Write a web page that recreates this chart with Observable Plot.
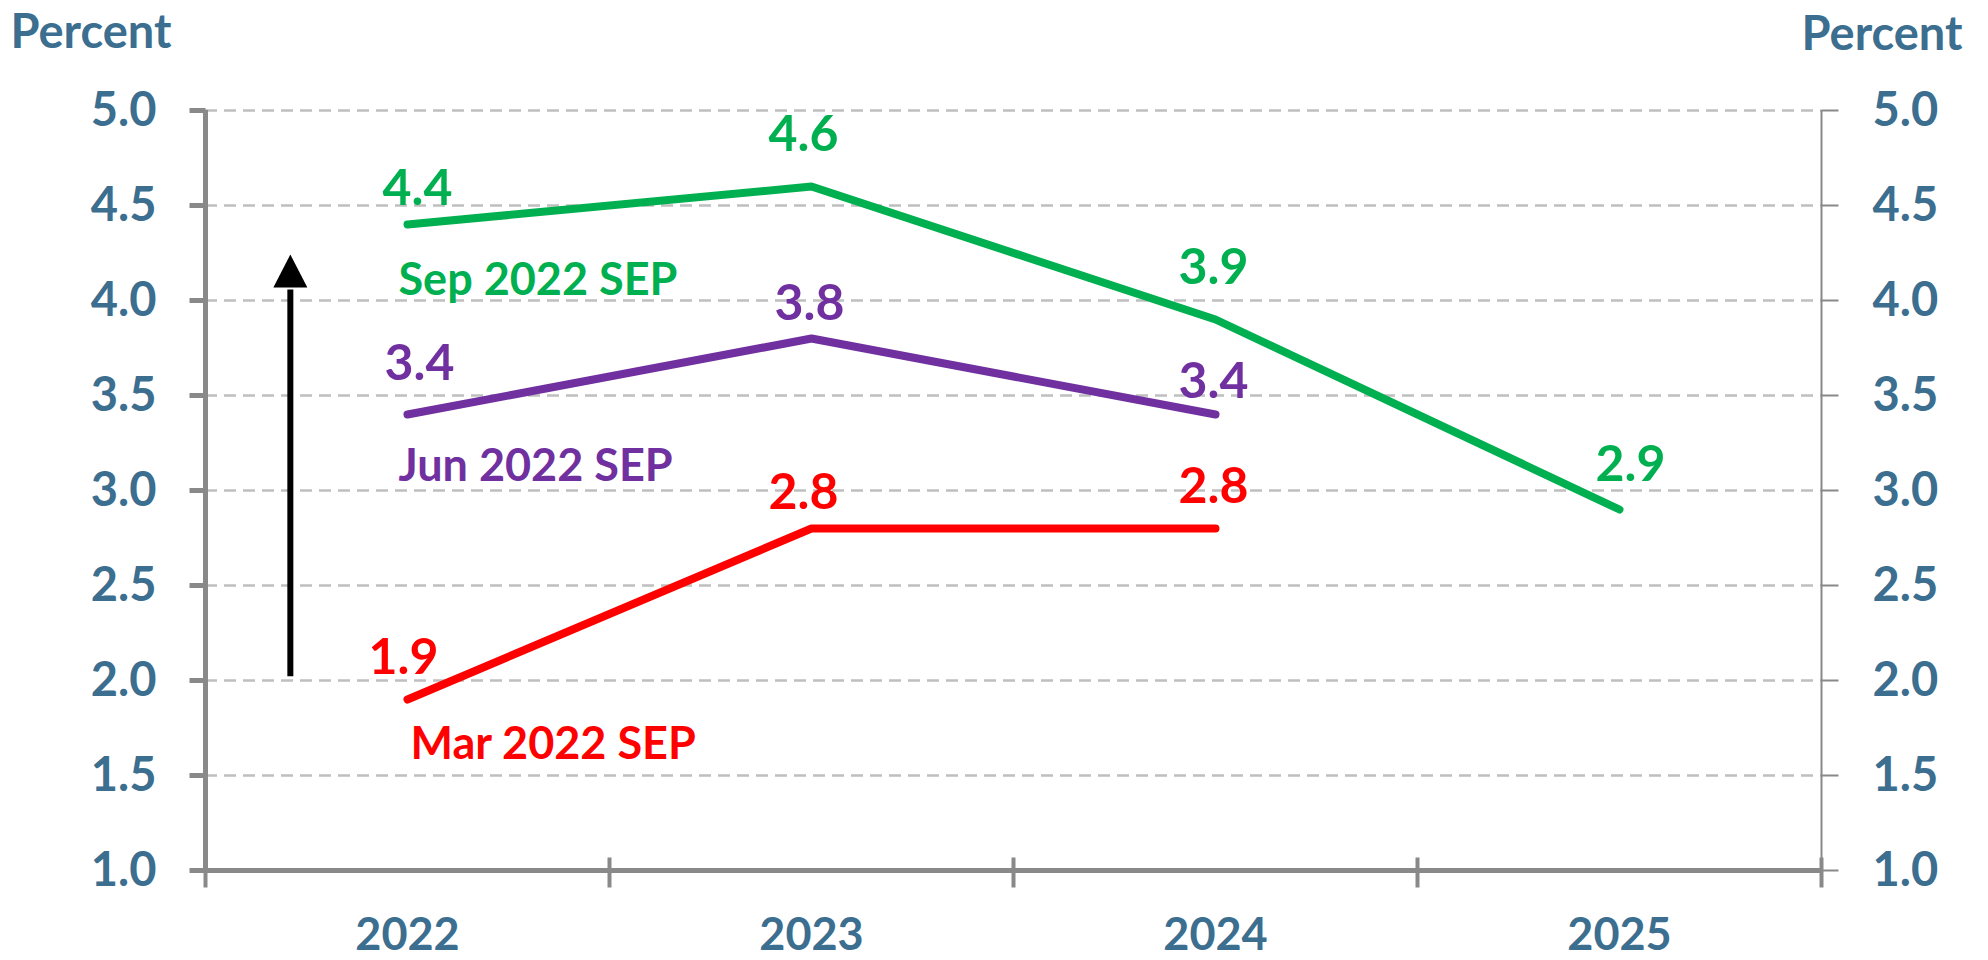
<!DOCTYPE html>
<html><head><meta charset="utf-8">
<script src="https://cdn.jsdelivr.net/npm/d3@7"></script>
<script src="https://cdn.jsdelivr.net/npm/@observablehq/plot@0.6"></script>
<style>body{margin:0;background:#fff;} #chart svg{display:block;}</style>
</head><body><div id="chart"></div>
<script>
// ---- data ----
const years = [2022, 2023, 2024, 2025];
const seriesNames = ["Mar 2022 SEP", "Jun 2022 SEP", "Sep 2022 SEP"];
const marValues = [1.9, 2.8, 2.8];
const junValues = [3.4, 3.8, 3.4];
const sepValues = [4.4, 4.6, 3.9, 2.9];
const yTicks = [1.0, 1.5, 2.0, 2.5, 3.0, 3.5, 4.0, 4.5, 5.0];
const yTitle = "Percent";
const xBounds = [2021.5, 2022.5, 2023.5, 2024.5, 2025.5];
const arrowYear = [2021.71];
const arrowFrom = 2.02;
const arrowTo = 4.155;

// ---- styles / layout ----
const seriesColors = ["#FF0000", "#7030A0", "#00B050"];
const textColor = "#3B6E8F";
const axisColor = "#898989";
const font = "Lato, 'Open Sans', sans-serif";
const valueOffsets = {
  "Mar 2022 SEP": [[-4, -26], [-8, -20], [-2, -26]],
  "Jun 2022 SEP": [[12, -35], [-2, -19], [-2, -17]],
  "Sep 2022 SEP": [[10, -20], [-8, -36], [-2, -36], [11, -29]]
};
const nameOffsets = {
  "Mar 2022 SEP": [3, 59],
  "Jun 2022 SEP": [-9, 66],
  "Sep 2022 SEP": [-9, 70]
};

const valuesBySeries = [marValues, junValues, sepValues];
const rows = seriesNames.flatMap((s, i) =>
  valuesBySeries[i].map((v, j) => ({series: s, year: years[j], value: v, idx: j})));

// custom symbols (tick marks and arrow head)
const triangleUp = {
  draw(c) {
    c.moveTo(0, -16.5);
    c.lineTo(17, 16.5);
    c.lineTo(-17, 16.5);
    c.closePath();
  }
};
const tickLeft = {draw(c) { c.moveTo(-16, 0); c.lineTo(0, 0); }};
const tickRight = {draw(c) { c.moveTo(0, 0); c.lineTo(17, 0); }};
const tickCross = {draw(c) { c.moveTo(0, -13); c.lineTo(0, 17); }};

const valueLabels = rows.map(d => {
  const [dx, dy] = valueOffsets[d.series][d.idx];
  return Plot.text([d], {x: "year", y: "value", text: r => r.value.toFixed(1), fill: "series",
    dx, dy, lineAnchor: "bottom", textAnchor: "middle", fontSize: 50, fontWeight: "bold"});
});
const nameLabels = seriesNames.map(s => {
  const first = rows.find(d => d.series === s && d.idx === 0);
  const [dx, dy] = nameOffsets[s];
  return Plot.text([first], {x: "year", y: "value", text: r => r.series, fill: "series",
    dx, dy, lineAnchor: "bottom", textAnchor: "start", fontSize: 45, fontWeight: "bold"});
});

const xMin = xBounds[0], xMax = xBounds[xBounds.length - 1];

const chart = Plot.plot({
  width: 1988,
  height: 960,
  marginLeft: 205,
  marginRight: 167,
  marginTop: 110,
  marginBottom: 90,
  style: {fontFamily: font, fontWeight: "bold", background: "#fff", color: textColor, overflow: "visible"},
  x: {type: "linear", domain: [xMin, xMax]},
  y: {domain: [yTicks[0], yTicks[yTicks.length - 1]]},
  color: {domain: seriesNames, range: seriesColors},
  marks: [
    Plot.gridY(yTicks, {stroke: "#BFBFBF", strokeOpacity: 1, strokeWidth: 2.5, strokeDasharray: "12,7"}),
    Plot.ruleX([xMin], {stroke: axisColor, strokeWidth: 5}),
    Plot.ruleX([xMax], {stroke: axisColor, strokeWidth: 2}),
    Plot.ruleY([yTicks[0]], {stroke: axisColor, strokeWidth: 5}),
    Plot.dot(yTicks, {x: () => xMin, y: d => d, symbol: tickLeft, r: 8, fill: "none", stroke: axisColor, strokeWidth: 5}),
    Plot.dot(yTicks, {x: () => xMax, y: d => d, symbol: tickRight, r: 8, fill: "none", stroke: axisColor, strokeWidth: 2}),
    Plot.dot(xBounds, {x: d => d, y: () => yTicks[0], symbol: tickCross, r: 8, fill: "none", stroke: axisColor, strokeWidth: 4}),
    Plot.axisY(yTicks, {anchor: "left", tickSize: 0, tickPadding: 49, tickFormat: d => d.toFixed(1),
      fontSize: 47, fontWeight: "bold", label: null}),
    Plot.axisY(yTicks, {anchor: "right", tickSize: 0, tickPadding: 51, tickFormat: d => d.toFixed(1),
      fontSize: 47, fontWeight: "bold", label: null}),
    Plot.axisX(years, {anchor: "bottom", tickSize: 0, tickPadding: 48, tickFormat: d => String(d),
      fontSize: 45, fontWeight: "bold", label: null}),
    Plot.text([yTitle], {frameAnchor: "top-left", dx: -195, dy: -63, textAnchor: "start", lineAnchor: "bottom",
      fill: textColor, fontSize: 47, fontWeight: "bold"}),
    Plot.text([yTitle], {frameAnchor: "top-right", dx: 141, dy: -61, textAnchor: "end", lineAnchor: "bottom",
      fill: textColor, fontSize: 47, fontWeight: "bold"}),
    Plot.ruleX(arrowYear, {y1: arrowFrom, y2: arrowTo - 0.1, stroke: "#000", strokeWidth: 6}),
    Plot.dot(arrowYear, {x: d => d, y: () => arrowTo, r: 16.5, symbol: triangleUp, fill: "#000", stroke: "none"}),
    Plot.line(rows, {x: "year", y: "value", z: "series", stroke: "series", strokeWidth: 8,
      strokeLinecap: "round", strokeLinejoin: "round"}),
    ...valueLabels,
    ...nameLabels
  ]
});
document.getElementById("chart").appendChild(chart);
</script>
</body></html>
